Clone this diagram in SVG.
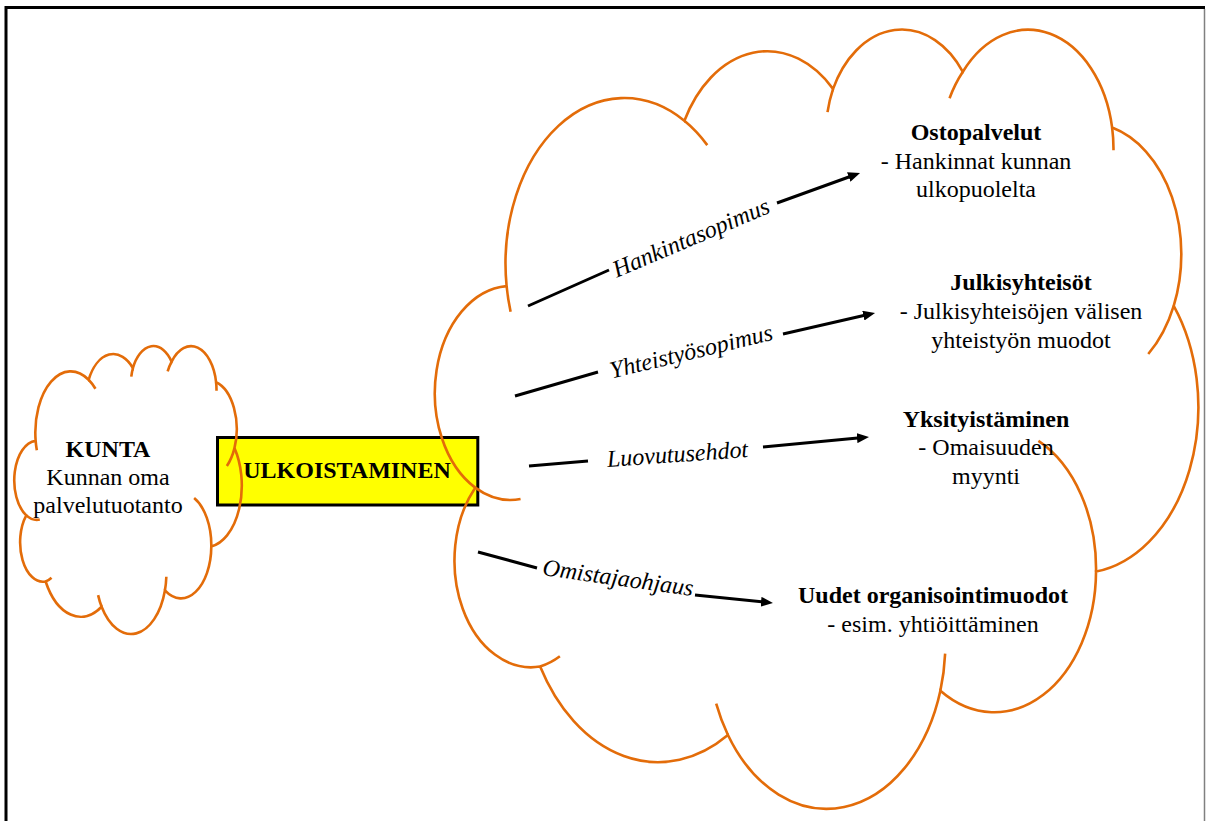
<svg xmlns="http://www.w3.org/2000/svg" width="1206" height="821" viewBox="0 0 1206 821">
<style>
text{font-family:"Liberation Serif","Times New Roman",serif;font-size:24px;fill:#000;text-anchor:middle}
.b{font-weight:bold}
.lbl{font-style:italic}
.cloud{fill:none;stroke:#E36C09;stroke-width:2.6px}
.cp{vector-effect:non-scaling-stroke}
.conn{fill:none;stroke:#000;stroke-width:3}
</style>
<defs>
<marker id="ah" viewBox="0 0 12 10" refX="6" refY="5" markerWidth="12" markerHeight="10" markerUnits="userSpaceOnUse" orient="auto"><path d="M0 0 L12 5 L0 10 Z" fill="#000"/></marker>
<path id="cloudOuter" class="cp" vector-effect="non-scaling-stroke" d="M3900 14370 A6753 9190 0 0 1 14005 5202 A5333 7267 0 0 1 22456 3432 A4365 5945 0 0 1 29834 2482 A4857 6595 0 0 1 38319 5577 A5333 7273 0 0 1 41820 15461 A6775 9220 0 0 1 37404 30201 A5785 7867 0 0 1 28556 36811 A6752 9215 0 0 1 16481 39263 A7720 10543 0 0 1 5805 35468 A4360 5918 0 0 1 2114 25546 A4345 5945 0 0 1 3900 14370 Z"/>
<path id="cloudInner" class="cp" vector-effect="non-scaling-stroke" d="M4693 26177 A4345 5945 0 0 1 2114 25546 M6928 34899 A4360 5918 0 0 1 5805 35468 M16481 39263 A6752 9215 0 0 1 15813 37522 M28827 34751 A6752 9215 0 0 1 28556 36811 M34129 22954 A5785 7867 0 0 1 37404 30201 M41820 15461 A5333 7273 0 0 1 40372 18136 M38319 5577 A4857 6595 0 0 1 38396 6840 M29078 3952 A4857 6595 0 0 1 29834 2482 M22141 4720 A4365 5945 0 0 1 22456 3432 M14005 5202 A6753 9190 0 0 1 15306 6551 M4127 15789 A6753 9190 0 0 1 3900 14370"/>
</defs>
<rect x="0" y="0" width="1206" height="821" fill="#fff"/>
<g id="frame">
<path d="M6 821 V7.5 H1205" fill="none" stroke="#000" stroke-width="3"/>
<path d="M1204.5 9 V821" fill="none" stroke="#808080" stroke-width="1.5"/>
</g>
<g id="node-ulkoistaminen">
<rect x="217.5" y="437.5" width="260.3" height="67.5" fill="#FFFF00" stroke="#000" stroke-width="3"/>
<text class="b" x="347" y="478">ULKOISTAMINEN</text>
</g>
<g id="node-kunta">
<g class="cloud" transform="translate(15.2 345.1) scale(0.0052431 0.0066644)">
<use href="#cloudOuter"/>
<use href="#cloudInner"/>
</g>
<text class="b" x="108" y="457">KUNTA</text>
<text x="108" y="485">Kunnan oma</text>
<text x="108" y="513">palvelutuotanto</text>
</g>
<g id="node-ulkopuoliset">
<g class="cloud" transform="translate(438 27) scale(0.0175926 0.0180324)">
<use href="#cloudOuter"/>
<use href="#cloudInner"/>
</g>
</g>
<g id="node-ostopalvelut">
<text class="b" x="976" y="140">Ostopalvelut</text>
<text x="976" y="168.5">- Hankinnat kunnan</text>
<text x="976" y="197">ulkopuolelta</text>
</g>
<g id="node-julkisyhteisot">
<text class="b" x="1021" y="290">Julkisyhteisöt</text>
<text x="1021" y="319">- Julkisyhteisöjen välisen</text>
<text x="1021" y="348">yhteistyön muodot</text>
</g>
<g id="node-yksityistaminen">
<text class="b" x="986" y="427">Yksityistäminen</text>
<text x="986" y="455">- Omaisuuden</text>
<text x="986" y="483.5">myynti</text>
</g>
<g id="node-uudet">
<text class="b" x="933" y="603">Uudet organisointimuodot</text>
<text x="933" y="632">- esim. yhtiöittäminen</text>
</g>
<g id="connectors">
<path class="conn" d="M528 306 L609 270 M777 203 L854.4 175" marker-end="url(#ah)"/>
<path class="conn" d="M515 396 L598 372 M783 334 L869.2 314.3" marker-end="url(#ah)"/>
<path class="conn" d="M529 466 L588 461 M763 447 L863 437.6" marker-end="url(#ah)"/>
<path class="conn" d="M478 552 L537 568 M695 595 L767 602.4" marker-end="url(#ah)"/>
<text class="lbl" transform="translate(694 245) rotate(-23)">Hankintasopimus</text>
<text class="lbl" transform="translate(693 359) rotate(-13.5)">Yhteistyösopimus</text>
<text class="lbl" transform="translate(678 462) rotate(-4)">Luovutusehdot</text>
<text class="lbl" transform="translate(617 585.5) rotate(8)">Omistajaohjaus</text>
</g>
</svg>
